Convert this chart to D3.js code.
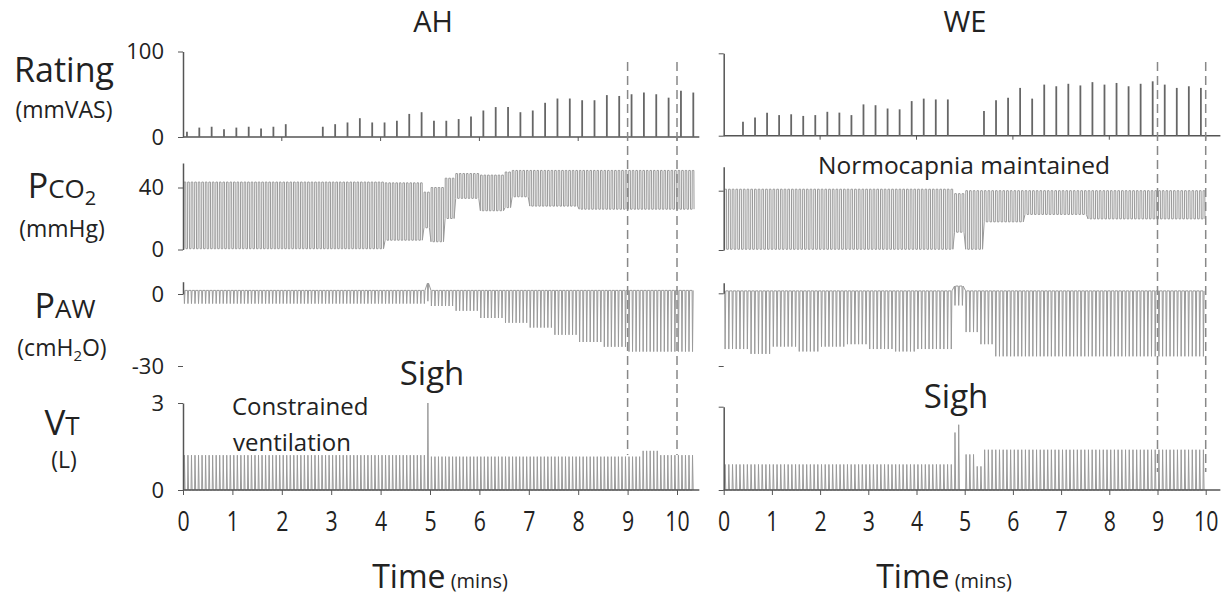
<html>
<head><meta charset="utf-8"></head>
<script src="https://d3js.org/d3.v7.min.js"></script>
<body style="margin:0;background:#fff">
<svg width="1223" height="598"></svg>
<script>
// ---- data ----
var panelNames = ["AH", "WE"];
var xTicks = [0, 1, 2, 3, 4, 5, 6, 7, 8, 9, 10];
var eventTimes = [9, 10];

var ahRatingTime = [0.08,0.33,0.58,0.83,1.08,1.33,1.58,1.83,2.08,
  2.83,3.08,3.33,3.58,3.83,4.08,4.33,4.58,4.83,5.08,5.33,5.58,5.83,6.08,6.33,
  6.58,6.83,7.08,7.33,7.58,7.83,8.08,8.33,8.58,8.83,9.08,9.33,9.58,9.83,10.08,10.33];
var ahRating = [6,11,12,9,11,12,10,12,15,
  12,15,17,22,17,17,19,27,29,19,19,21,24,31,35,
  35,29,31,40,45,45,43,43,49,48,50,52,50,46,54,52];

var weRatingTime = [0.4,0.65,0.9,1.15,1.4,1.65,1.9,2.15,2.4,2.65,2.9,3.15,3.4,3.65,3.9,4.15,4.4,4.65,
  5.4,5.65,5.9,6.15,6.4,6.65,6.9,7.15,7.4,7.65,7.9,8.15,8.4,8.65,8.9,9.15,9.4,9.65,9.9];
var weRating = [17,22,28,25,26,24,25,29,28,25,38,37,33,32,42,45,44,44,
  30,43,46,58,45,62,60,63,61,65,62,64,60,63,66,62,58,60,58];

// breaths per minute
var ahRate = 14;
var weRate = 13;

// trace segments: [start min, end min, high, low]
var ahPco2 = [
  [0, 4.05, 43.5, 0.5],
  [4.05, 4.85, 43, 6],
  [4.85, 4.95, 37, 14],
  [4.95, 5.3, 40, 5],
  [5.3, 5.5, 46, 20],
  [5.5, 6.0, 49, 33],
  [6.0, 6.45, 48, 25],
  [6.45, 6.65, 50, 27],
  [6.65, 6.95, 51, 34],
  [6.95, 8.0, 51, 28],
  [8.0, 10.35, 51, 26]
];
var ahPaw = [
  [0, 4.88, 1.5, -4],
  [4.88, 4.96, 4.5, -3],
  [4.96, 5.5, 1.5, -5],
  [5.5, 6.0, 1.5, -7],
  [6.0, 6.5, 1.5, -10],
  [6.5, 7.0, 1.5, -12],
  [7.0, 7.5, 1.5, -14],
  [7.5, 8.0, 1.5, -17],
  [8.0, 8.5, 1.5, -20],
  [8.5, 9.0, 1.5, -22],
  [9.0, 10.35, 1.5, -24]
];
var ahVt = [
  [0, 4.88, 1.2, 0],
  [4.88, 4.95, 3.0, 0],
  [4.95, 9.3, 1.15, 0],
  [9.3, 9.6, 1.35, 0],
  [9.6, 10.35, 1.2, 0]
];

var wePco2 = [
  [0, 4.75, 41, 0.5],
  [4.75, 4.95, 38, 12],
  [4.95, 5.4, 40, 0.5],
  [5.4, 6.2, 40, 19],
  [6.2, 7.5, 40, 24],
  [7.5, 9.95, 40, 21]
];
var wePaw = [
  [0, 0.5, 1, -23], [0.5, 1.0, 1, -25], [1.0, 1.5, 1, -22], [1.5, 2.0, 1, -24],
  [2.0, 2.5, 1, -22], [2.5, 3.0, 1, -21], [3.0, 3.5, 1, -23], [3.5, 4.0, 1, -24],
  [4.0, 4.75, 1, -23],
  [4.75, 5.0, 3, -5],
  [5.0, 5.3, 1, -16], [5.3, 5.6, 1, -21], [5.6, 6.0, 1, -26], [6.0, 9.95, 1, -26]
];
var weVt = [
  [0, 4.75, 0.92, 0],
  [4.75, 4.83, 2.07, 0],
  [4.83, 4.91, 2.35, 0],
  [4.91, 5.0, 0, 0],
  [5.0, 5.2, 1.28, 0],
  [5.2, 5.4, 0.85, 0],
  [5.4, 9.95, 1.45, 0]
];

// ---- drawing ----
var svg = d3.select("svg");
var FONT = "'Open Sans', sans-serif";
var TRACE = "#9a9a9a";
var AXIS = "#555";

var layout = {
  AH: {x0: 183, pxPerMin: 49.4, tMax: 10.33, titleX: 433, timeX: 440,
       rating: [137, 51.5], pco2: [249.5, 187.5, 163], paw: [294, 366, 281.7], vt: [490, 403],
       ratingT: ahRatingTime, rating_v: ahRating, rate: ahRate,
       pco2Seg: ahPco2, pawSeg: ahPaw, vtSeg: ahVt, dashEnd: 455, labels: true},
  WE: {x0: 723.7, pxPerMin: 48.2, tMax: 10.18, titleX: 965, timeX: 944,
       rating: [135.7, 53.3], pco2: [250, 190.7, 166.7], paw: [293.3, 366, 282.7], vt: [490, 406.7],
       ratingT: weRatingTime, rating_v: weRating, rate: weRate,
       pco2Seg: wePco2, pawSeg: wePaw, vtSeg: weVt, dashEnd: 472, labels: false}
};

function breaths(segs, rate) {
  var out = [];
  var p = 1 / rate;
  for (var i = 0; i * p < segs[segs.length - 1][1]; i++) {
    var t = i * p + 0.02;
    var s = segs.find(function(d) { return t >= d[0] && t < d[1]; });
    if (s) out.push({t: t, hi: s[2], lo: s[3]});
  }
  return out;
}

function tracePoints(bs, rate, shape) {
  var p = 1 / rate, pts = [];
  bs.forEach(function(b) {
    if (shape == "pco2") {
      pts.push([b.t, b.lo], [b.t + 0.04 * p, b.hi], [b.t + 0.5 * p, b.hi], [b.t + 0.55 * p, b.lo]);
    } else if (shape == "paw") {
      pts.push([b.t, b.hi], [b.t + 0.12 * p, b.lo], [b.t + 0.3 * p, b.hi]);
    } else {
      pts.push([b.t, 0], [b.t + 0.12 * p, b.hi], [b.t + 0.3 * p, 0]);
    }
  });
  return pts;
}

panelNames.forEach(function(name) {
  var L = layout[name];
  var x = d3.scaleLinear().domain([0, 10]).range([L.x0, L.x0 + 10 * L.pxPerMin]);
  var xEnd = x(L.tMax) + 6;
  var g = svg.append("g");

  // title
  g.append("text").attr("x", L.titleX).attr("y", 32)
    .attr("text-anchor", "middle").style("font-family", FONT).style("font-size", "29px")
    .attr("fill", "#222").text(name);

  // rating panel
  var yR = d3.scaleLinear().domain([0, 100]).range(L.rating);
  g.append("line").attr("x1", x(0)).attr("x2", xEnd).attr("y1", yR(0)).attr("y2", yR(0))
    .attr("stroke", AXIS).attr("stroke-width", 1.5);
  g.selectAll(".evenTick").data([2, 4, 6, 8, 10]).enter().append("line")
    .attr("x1", function(d) { return x(d); }).attr("x2", function(d) { return x(d); })
    .attr("y1", yR(0)).attr("y2", yR(0) + 4).attr("stroke", AXIS);
  g.selectAll(".rate").data(L.ratingT).enter().append("line")
    .attr("x1", function(d) { return x(d); }).attr("x2", function(d) { return x(d); })
    .attr("y1", yR(0)).attr("y2", function(d, i) { return yR(L.rating_v[i]); })
    .attr("stroke", "#666").attr("stroke-width", 1.8);

  // traces
  var yC = d3.scaleLinear().domain([0, 40]).range([L.pco2[0], L.pco2[1]]);
  var yP = d3.scaleLinear().domain([0, -30]).range([L.paw[0], L.paw[1]]);
  var yV = d3.scaleLinear().domain([0, 3]).range(L.vt);
  [[L.pco2Seg, yC, "pco2"], [L.pawSeg, yP, "paw"], [L.vtSeg, yV, "vt"]].forEach(function(tr) {
    var pts = tracePoints(breaths(tr[0], L.rate), L.rate, tr[2]);
    var line = d3.line().x(function(d) { return x(d[0]); }).y(function(d) { return tr[1](d[1]); });
    g.append("path").attr("d", line(pts)).attr("fill", "none")
      .attr("stroke", TRACE).attr("stroke-width", 1);
  });

  // left axes
  function leftAxis(scale, top, vals) {
    var dom = [scale.invert(scale.range()[0]), scale.invert(top)];
    var s = scale.copy().domain(dom).range([scale.range()[0], top]);
    var ax = g.append("g").attr("transform", "translate(" + x(0) + ",0)")
      .call(d3.axisLeft(s).tickValues(vals).tickSize(5).tickSizeOuter(0).tickPadding(14)
        .tickFormat(L.labels ? function(d) { return String(d); } : ""));
    ax.select(".domain").attr("stroke", AXIS).attr("stroke-width", 1.5);
    ax.selectAll(".tick line").attr("stroke", AXIS);
    ax.selectAll("text").style("font-family", FONT).style("font-size", "22px").attr("fill", "#222");
  }
  leftAxis(yR, L.rating[1], [0, 100]);
  leftAxis(yC, L.pco2[2], [0, 40]);
  leftAxis(yP, L.paw[2], [0, -30]);
  leftAxis(yV, L.vt[1], [0, 3]);

  // bottom time axis
  var xa = g.append("g").attr("transform", "translate(0," + L.vt[0] + ")")
    .call(d3.axisBottom(x).tickValues(xTicks).tickSize(5).tickSizeOuter(0));
  xa.select(".domain").attr("d", "M" + x(0) + ",0H" + xEnd).attr("stroke", AXIS).attr("stroke-width", 1.5);
  xa.selectAll(".tick line").attr("stroke", AXIS);
  xa.selectAll("text").attr("y", 31).attr("dy", "0.35em").attr("transform", "scale(0.76,1)")
    .style("font-family", FONT).style("font-size", "28px").attr("fill", "#222");

  var tl = g.append("text").attr("x", L.timeX).attr("y", 588).attr("text-anchor", "middle")
    .attr("fill", "#222").style("font-family", FONT);
  tl.append("tspan").style("font-size", "32px").text("Time");
  tl.append("tspan").style("font-size", "20px").text(" (mins)");

  // event dashed lines
  g.selectAll(".dash").data(eventTimes).enter().append("line")
    .attr("x1", function(d) { return x(d); }).attr("x2", function(d) { return x(d); })
    .attr("y1", 62).attr("y2", L.dashEnd)
    .attr("stroke", "#888").attr("stroke-width", 1.5).attr("stroke-dasharray", "9,5");
});

// annotations
function label(xp, yp, txt, size, anchor) {
  return svg.append("text").attr("x", xp).attr("y", yp).attr("text-anchor", anchor || "start")
    .style("font-family", FONT).style("font-size", size + "px").attr("fill", "#222").text(txt);
}
label(432, 385, "Sigh", 33, "middle");
label(956, 408, "Sigh", 33, "middle");
label(232, 415, "Constrained", 24);
label(233, 451, "ventilation", 24);
label(818, 174, "Normocapnia maintained", 24.5);

// row labels on the left
label(64, 82, "Rating", 34, "middle");
label(64, 118, "(mmVAS)", 23, "middle");

var pco2 = svg.append("text").attr("x", 62).attr("y", 198).attr("text-anchor", "middle")
  .style("font-family", FONT).attr("fill", "#222");
pco2.append("tspan").style("font-size", "34px").text("P");
pco2.append("tspan").style("font-size", "26px").text("CO");
pco2.append("tspan").style("font-size", "20px").attr("dy", 7).text("2");
label(62, 237, "(mmHg)", 23, "middle");

var paw = svg.append("text").attr("x", 65).attr("y", 318).attr("text-anchor", "middle")
  .style("font-family", FONT).attr("fill", "#222");
paw.append("tspan").style("font-size", "34px").text("P");
paw.append("tspan").style("font-size", "26px").text("AW");
var cm = svg.append("text").attr("x", 62).attr("y", 356).attr("text-anchor", "middle")
  .style("font-family", FONT).style("font-size", "23px").attr("fill", "#222");
cm.append("tspan").text("(cmH");
cm.append("tspan").style("font-size", "15px").attr("dy", 5).text("2");
cm.append("tspan").attr("dy", -5).text("O)");

var vt = svg.append("text").attr("x", 62).attr("y", 435).attr("text-anchor", "middle")
  .style("font-family", FONT).attr("fill", "#222");
vt.append("tspan").style("font-size", "35px").text("V");
vt.append("tspan").style("font-size", "26px").text("T");
label(64, 468, "(L)", 23, "middle");
</script>
</body>
</html>
